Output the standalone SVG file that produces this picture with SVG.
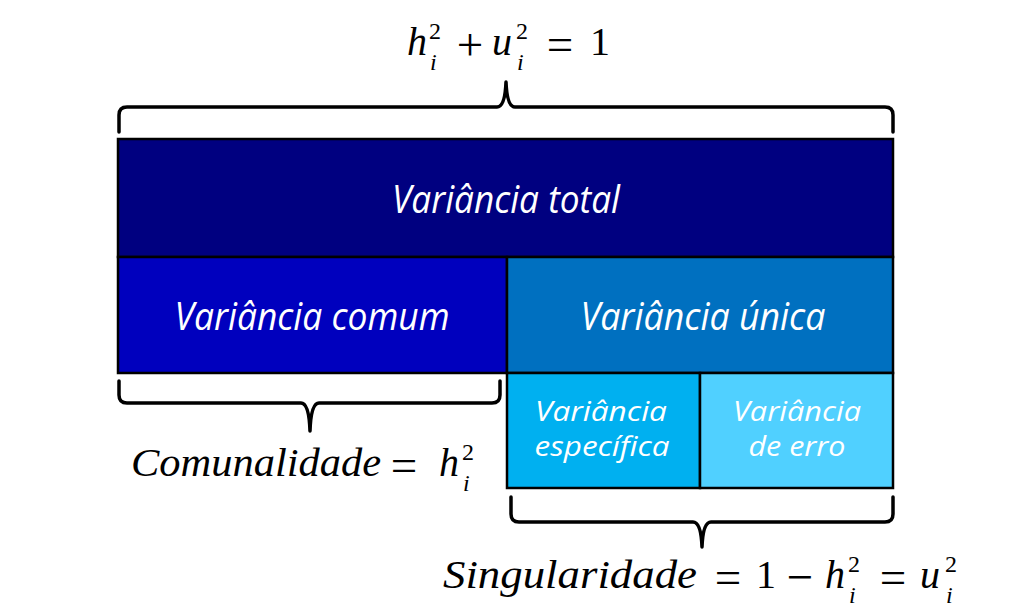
<svg xmlns="http://www.w3.org/2000/svg" width="1024" height="615" viewBox="0 0 1024 615">
<style>
.box{stroke:#000;stroke-width:2.5}
.lbl{font-family:"Open Sans","Liberation Sans",sans-serif;font-style:italic;fill:#fff;text-anchor:middle}
.big{font-size:38px}
.sm{font-size:27px}
.m{font-family:"Liberation Serif","DejaVu Serif",serif;font-size:40px;fill:#000}
.mi{font-style:italic}
.s{font-size:24px}
.op{font-size:47px;text-anchor:middle}
.c{text-anchor:middle}
.brace{fill:none;stroke:#000;stroke-width:3.5;stroke-linejoin:round;stroke-linecap:round}
</style>
<rect width="1024" height="615" fill="#fff"/>
<g id="total">
<rect class="box" x="118" y="139" width="775" height="118" fill="#000080"/>
<text class="lbl big" x="506" y="213" textLength="228" lengthAdjust="spacingAndGlyphs">Variância total</text>
</g>
<g id="comum">
<rect class="box" x="118" y="257" width="389" height="116" fill="#0000BE"/>
<text class="lbl big" x="312" y="330" textLength="275" lengthAdjust="spacingAndGlyphs">Variância comum</text>
</g>
<g id="unica">
<rect class="box" x="507" y="257" width="386" height="116" fill="#0070C0"/>
<text class="lbl big" x="703" y="330" textLength="245" lengthAdjust="spacingAndGlyphs">Variância única</text>
</g>
<g id="especifica">
<rect class="box" x="507" y="373" width="193" height="115" fill="#00B0F0"/>
<text class="lbl sm" x="601" y="421" textLength="132" lengthAdjust="spacingAndGlyphs">Variância</text>
<text class="lbl sm" x="602" y="456" textLength="135" lengthAdjust="spacingAndGlyphs">específica</text>
</g>
<g id="erro">
<rect class="box" x="700" y="373" width="193" height="115" fill="#50D0FF"/>
<text class="lbl sm" x="797" y="421" textLength="128" lengthAdjust="spacingAndGlyphs">Variância</text>
<text class="lbl sm" x="797" y="456" textLength="97" lengthAdjust="spacingAndGlyphs">de erro</text>
</g>
<g id="connectors">
<path class="brace" d="M119,132 V115 Q119,107 127,107 H497 Q505,107 506,82 Q507,107 515,107 H885 Q893,107 893,115 V132"/>
<path class="brace" d="M119,381 V395 Q119,403 127,403 H301 Q309,403 310,431 Q311,403 319,403 H492 Q500,403 500,395 V381"/>
<path class="brace" d="M511,497 V514 Q511,522 519,522 H693 Q701,522 702,547 Q703,522 711,522 H885 Q893,522 893,514 V497"/>
</g>
<g id="formula-top">
<text class="m mi" x="407" y="55">h</text>
<text class="m s" x="429" y="39">2</text>
<text class="m mi s" x="430" y="70">i</text>
<text class="m op" x="470" y="60">+</text>
<text class="m mi" x="492" y="55">u</text>
<text class="m s" x="516" y="39">2</text>
<text class="m mi s" x="517" y="70">i</text>
<text class="m op" x="560" y="60">=</text>
<text class="m c" x="600" y="55">1</text>
</g>
<g id="formula-comunalidade">
<text class="m mi" x="131" y="476" textLength="250" lengthAdjust="spacingAndGlyphs">Comunalidade</text>
<text class="m op" x="404" y="481">=</text>
<text class="m mi" x="439" y="476">h</text>
<text class="m s" x="462" y="460">2</text>
<text class="m mi s" x="463" y="491">i</text>
</g>
<g id="formula-singularidade">
<text class="m mi" x="443" y="588" textLength="254" lengthAdjust="spacingAndGlyphs">Singularidade</text>
<text class="m op" x="728" y="593">=</text>
<text class="m c" x="766" y="588">1</text>
<text class="m op" x="800" y="593">−</text>
<text class="m mi" x="825" y="588">h</text>
<text class="m s" x="848" y="572">2</text>
<text class="m mi s" x="849" y="603">i</text>
<text class="m op" x="893" y="593">=</text>
<text class="m mi" x="920" y="588">u</text>
<text class="m s" x="945" y="572">2</text>
<text class="m mi s" x="946" y="603">i</text>
</g>
</svg>
